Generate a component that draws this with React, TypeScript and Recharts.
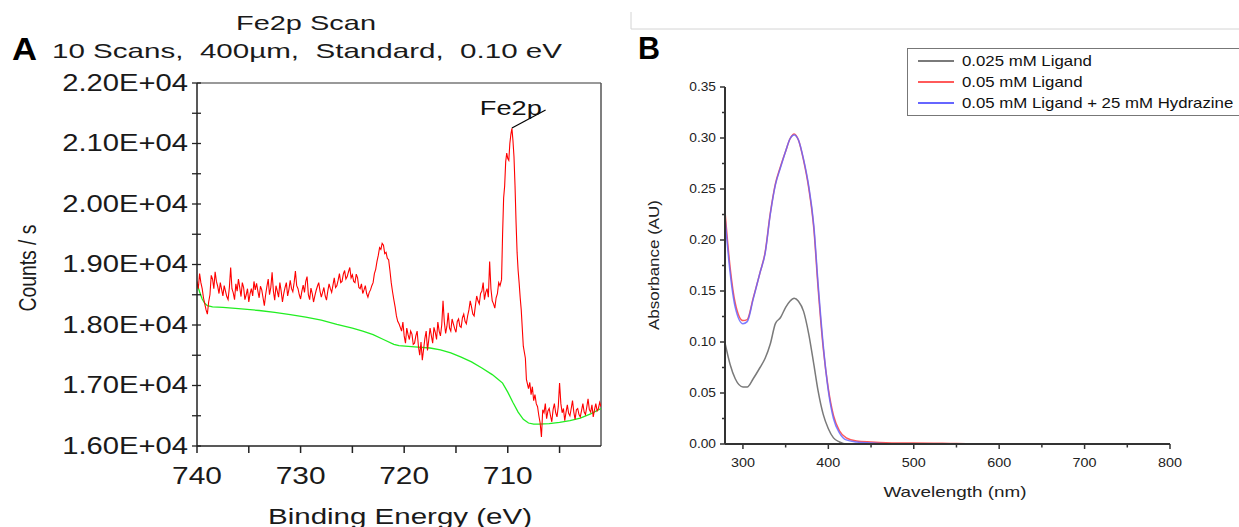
import React from 'react';
import { LineChart, Line, XAxis, YAxis, ReferenceLine, ReferenceDot, Legend } from 'recharts';

const FONT = 'Arial, "Liberation Sans", Helvetica, sans-serif';

// ---- Panel A: Fe2p XPS scan (binding energy in eV, counts / s) ----
const fe2pSignal: [number, number][] = [
  [740, 18720], [739.875, 18600], [739.75, 18850], [739.625, 18700], [739.5, 18600], [739.375, 18450], [739.25, 18350], [739.125, 18250],
  [739, 18180], [738.875, 18380], [738.75, 18500], [738.625, 18820], [738.5, 18760], [738.375, 18600], [738.25, 18880], [738.125, 18720],
  [738, 18640], [737.875, 18520], [737.75, 18700], [737.625, 18590], [737.5, 18480], [737.375, 18650], [737.25, 18560], [737.125, 18470],
  [737, 18420], [736.875, 18620], [736.75, 18950], [736.625, 18600], [736.5, 18530], [736.375, 18420], [736.25, 18680], [736.125, 18560],
  [736, 18760], [735.875, 18620], [735.75, 18470], [735.625, 18700], [735.5, 18620], [735.375, 18420], [735.25, 18500], [735.125, 18600],
  [735, 18380], [734.875, 18520], [734.75, 18600], [734.625, 18480], [734.5, 18720], [734.375, 18580], [734.25, 18690], [734.125, 18560],
  [734, 18450], [733.875, 18640], [733.75, 18580], [733.625, 18450], [733.5, 18320], [733.375, 18500], [733.25, 18640], [733.125, 18760],
  [733, 18500], [732.875, 18620], [732.75, 18870], [732.625, 18560], [732.5, 18410], [732.375, 18650], [732.25, 18560], [732.125, 18460],
  [732, 18700], [731.875, 18560], [731.75, 18380], [731.625, 18520], [731.5, 18620], [731.375, 18700], [731.25, 18480], [731.125, 18590],
  [731, 18740], [730.875, 18600], [730.75, 18550], [730.625, 18700], [730.5, 18890], [730.375, 18650], [730.25, 18600], [730.125, 18500],
  [730, 18430], [729.875, 18560], [729.75, 18660], [729.625, 18540], [729.5, 18720], [729.375, 18800], [729.25, 18500], [729.125, 18420],
  [729, 18610], [728.875, 18520], [728.75, 18380], [728.625, 18480], [728.5, 18570], [728.375, 18640], [728.25, 18700], [728.125, 18560],
  [728, 18460], [727.875, 18540], [727.75, 18620], [727.625, 18480], [727.5, 18410], [727.375, 18560], [727.25, 18680], [727.125, 18600],
  [727, 18540], [726.875, 18660], [726.75, 18780], [726.625, 18620], [726.5, 18650], [726.375, 18740], [726.25, 18850], [726.125, 18700],
  [726, 18720], [725.875, 18840], [725.75, 18900], [725.625, 18760], [725.5, 18800], [725.375, 18880], [725.25, 18950], [725.125, 18780],
  [725, 18830], [724.875, 18720], [724.75, 18700], [724.625, 18840], [724.5, 18780], [724.375, 18620], [724.25, 18600], [724.125, 18680],
  [724, 18520], [723.875, 18580], [723.75, 18650], [723.625, 18520], [723.5, 18460], [723.375, 18540], [723.25, 18580], [723.125, 18650],
  [723, 18700], [722.875, 18850], [722.75, 18920], [722.625, 19050], [722.5, 19150], [722.375, 19280], [722.25, 19250], [722.125, 19350],
  [722, 19320], [721.875, 19180], [721.75, 19200], [721.625, 19100], [721.5, 19080], [721.375, 18900], [721.25, 18700], [721.125, 18550],
  [721, 18420], [720.875, 18300], [720.75, 18150], [720.625, 18060], [720.5, 18020], [720.375, 17960], [720.25, 17900], [720.125, 18050],
  [720, 17820], [719.875, 17700], [719.75, 17950], [719.625, 17840], [719.5, 17760], [719.375, 17900], [719.25, 17850], [719.125, 17680],
  [719, 17700], [718.875, 17820], [718.75, 17900], [718.625, 17650], [718.5, 17500], [718.375, 17720], [718.25, 17420], [718.125, 17600],
  [718, 17780], [717.875, 17900], [717.75, 17580], [717.625, 17760], [717.5, 17950], [717.375, 17820], [717.25, 17700], [717.125, 17960],
  [717, 17880], [716.875, 17760], [716.75, 18050], [716.625, 17900], [716.5, 17820], [716.375, 18000], [716.25, 18400], [716.125, 18050],
  [716, 17860], [715.875, 17980], [715.75, 18200], [715.625, 17950], [715.5, 17900], [715.375, 18100], [715.25, 18020], [715.125, 17940],
  [715, 17880], [714.875, 18060], [714.75, 18100], [714.625, 17980], [714.5, 17960], [714.375, 18120], [714.25, 18180], [714.125, 18060],
  [714, 18020], [713.875, 18150], [713.75, 18250], [713.625, 18400], [713.5, 18300], [713.375, 18180], [713.25, 18150], [713.125, 18320],
  [713, 18480], [712.875, 18400], [712.75, 18350], [712.625, 18520], [712.5, 18560], [712.375, 18700], [712.25, 18420], [712.125, 18540],
  [712, 18600], [711.875, 18460], [711.75, 19050], [711.625, 18600], [711.5, 18400], [711.375, 18350], [711.25, 18280], [711.125, 18450],
  [711, 18520], [710.875, 18700], [710.75, 18650], [710.6, 18750], [710.5, 19500], [710.4, 20100], [710.3, 20300], [710.2, 20700],
  [710.1, 20840], [710, 20750], [709.9, 20720], [709.8, 21000], [709.7, 21150], [709.6, 21250], [709.5, 21050], [709.4, 20780],
  [709.3, 20300], [709.2, 19700], [709.1, 19200], [709, 18900], [708.9, 18690], [708.8, 18450], [708.7, 18250], [708.5, 17650],
  [708.3, 17450], [708.2, 17100], [708, 16950], [707.875, 17050], [707.75, 16850], [707.625, 16980], [707.5, 16750], [707.375, 16850],
  [707.25, 16700], [707.125, 16650], [707, 16500], [706.875, 16380], [706.75, 16150], [706.625, 16600], [706.5, 16550], [706.375, 16700],
  [706.25, 16450], [706.125, 16580], [706, 16620], [705.875, 16500], [705.75, 16400], [705.625, 16600], [705.5, 16700], [705.375, 16550],
  [705.25, 16480], [705.125, 16650], [705, 17040], [704.875, 16700], [704.75, 16550], [704.625, 16620], [704.5, 16420], [704.375, 16560],
  [704.25, 16680], [704.125, 16540], [704, 16500], [703.875, 16620], [703.75, 16750], [703.625, 16560], [703.5, 16440], [703.375, 16600],
  [703.25, 16620], [703.125, 16520], [703, 16480], [702.875, 16590], [702.75, 16700], [702.625, 16560], [702.5, 16520], [702.375, 16640],
  [702.25, 16780], [702.125, 16600], [702, 16560], [701.875, 16680], [701.75, 16480], [701.625, 16600], [701.5, 16700], [701.375, 16580],
  [701.25, 16620], [701.125, 16720], [701, 16650],
];

const fe2pBackground: [number, number][] = [
  [740, 18680], [739.75, 18550], [739.5, 18430], [739.25, 18360], [739, 18320], [738.5, 18300], [737.5, 18290], [736, 18270],
  [734, 18240], [732.5, 18210], [731, 18170], [729.5, 18130], [728, 18080], [726.5, 18010], [725, 17950], [724, 17900],
  [723, 17840], [722, 17760], [721, 17680], [720.5, 17660], [719, 17640], [717.5, 17620], [716.5, 17590], [715.5, 17540],
  [714.5, 17470], [713.5, 17390], [712.5, 17290], [711.5, 17180], [711, 17110], [710.5, 17040], [710, 16890], [709.5, 16720],
  [709, 16560], [708.5, 16440], [708, 16380], [707.5, 16360], [707, 16360], [706, 16370], [705, 16390], [704, 16420],
  [703, 16460], [702, 16530], [701, 16620],
];

const energyTicks = [740, 735, 730, 725, 720, 715, 710, 705];
const countTicks = [16000, 16500, 17000, 17500, 18000, 18500, 19000, 19500, 20000, 20500, 21000, 21500, 22000];

// ---- Panel B: UV-vis absorbance ----
const wavelengths = [279, 285, 291, 300, 305, 312, 320, 326, 332, 338, 344, 350, 355, 360, 365, 371, 377, 383, 388, 394, 400, 406, 413, 421, 433, 450, 480, 500, 550, 600, 700, 800];
const ligand025 = [0.099, 0.078, 0.064, 0.056, 0.056, 0.064, 0.075, 0.084, 0.098, 0.118, 0.124, 0.134, 0.14, 0.143, 0.14, 0.13, 0.108, 0.078, 0.052, 0.029, 0.015, 0.006, 0.002, 0, 0, 0, 0, 0, 0, 0, 0, 0];
const ligand05 = [0.228, 0.173, 0.138, 0.121, 0.122, 0.143, 0.168, 0.188, 0.226, 0.255, 0.272, 0.287, 0.299, 0.304, 0.298, 0.278, 0.251, 0.211, 0.153, 0.094, 0.054, 0.028, 0.013, 0.006, 0.003, 0.002, 0.001, 0.001, 0.0005, 0, 0, 0];
const ligandHydrazine = [0.222, 0.168, 0.134, 0.118, 0.12, 0.142, 0.168, 0.187, 0.225, 0.254, 0.271, 0.287, 0.299, 0.303, 0.298, 0.279, 0.253, 0.214, 0.157, 0.097, 0.052, 0.025, 0.011, 0.004, 0.002, 0.001, 0, 0, 0, 0, 0, 0];
const seriesNames = ['0.025 mM Ligand', '0.05 mM Ligand', '0.05 mM Ligand + 25 mM Hydrazine'];
const seriesColors = ['#7a7a7a', '#ff5a5a', '#6666ff'];
const wavelengthTicks = [300, 350, 400, 450, 500, 550, 600, 650, 700, 750, 800];
const absTicks = [0, 0.025, 0.05, 0.075, 0.1, 0.125, 0.15, 0.175, 0.2, 0.225, 0.25, 0.275, 0.3, 0.325, 0.35];

const signalRows = fe2pSignal.map(([e, c]) => ({ e, c }));
const backgroundRows = fe2pBackground.map(([e, c]) => ({ e, c }));
const uvRows = wavelengths.map((w, i) => ({ w, a: ligand025[i], b: ligand05[i], c: ligandHydrazine[i] }));

const CountsTick = (p: any) => {
  const { x, y, payload } = p;
  const major = payload.value % 1000 === 0;
  const ax = x + 7;
  return (
    <g>
      <line x1={ax - 5} x2={ax + 4} y1={y} y2={y} stroke="#222" strokeWidth={1.3} />
      {major && (
        <text transform={`translate(${x - 2},${y}) scale(1.27,1)`} textAnchor="end" dominantBaseline="central"
          fontSize={23} fill="#1a1a1a" fontFamily={FONT}>
          {(payload.value / 10000).toFixed(2) + 'E+04'}
        </text>
      )}
    </g>
  );
};

const EnergyTick = (p: any) => {
  const { x, y, payload } = p;
  if (payload.value % 10 !== 0) return <g />;
  return (
    <text transform={`translate(${x},${y + 23}) scale(1.3,1)`} textAnchor="middle" dominantBaseline="central"
      fontSize={23} fill="#1a1a1a" fontFamily={FONT}>
      {payload.value}
    </text>
  );
};

const AbsTick = (p: any) => {
  const { x, y, payload } = p;
  const v = payload.value;
  const major = Math.abs(v * 20 - Math.round(v * 20)) < 1e-6;
  const ax = x + 9;
  return (
    <g>
      <line x1={ax - (major ? 5 : 3)} x2={ax} y1={y} y2={y} stroke="#333" strokeWidth={1.5} />
      {major && (
        <text transform={`translate(${x},${y}) scale(1.1,1)`} textAnchor="end" dominantBaseline="central"
          fontSize={12.5} fill="#222" fontFamily={FONT}>
          {v.toFixed(2)}
        </text>
      )}
    </g>
  );
};

const WaveTick = (p: any) => {
  const { x, y, payload } = p;
  const major = payload.value % 100 === 0;
  return (
    <g>
      <line x1={x} x2={x} y1={y} y2={y + (major ? 5 : 3.5)} stroke="#333" strokeWidth={1.5} />
      {major && (
        <text transform={`translate(${x},${y + 19}) scale(1.15,1)`} textAnchor="middle" dominantBaseline="central"
          fontSize={12.5} fill="#222" fontFamily={FONT}>
          {payload.value}
        </text>
      )}
    </g>
  );
};

const LegendBox = () => (
  <div style={{ border: '1px solid #777', background: '#fff', padding: '1px 0 2px 10px', width: 420, fontFamily: FONT }}>
    {seriesNames.map((name, i) => (
      <div key={name} style={{ display: 'flex', alignItems: 'center', height: 21 }}>
        <div style={{ width: 36, height: 2, background: seriesColors[i], marginRight: 8, flexShrink: 0 }} />
        <span style={{ fontSize: 15, color: '#111', display: 'inline-block', transform: 'scaleX(1.12)', transformOrigin: 'left center', whiteSpace: 'nowrap' }}>
          {name}
        </span>
      </div>
    ))}
  </div>
);

const FePanel = () => (
  <LineChart width={620} height={527} margin={{ top: 83, right: 19, bottom: 21, left: 57 }}>
    <XAxis dataKey="e" type="number" domain={[701, 740]} reversed allowDataOverflow ticks={energyTicks}
      tick={<EnergyTick />} tickSize={7} tickMargin={0} height={60} stroke="#222" strokeWidth={1.5}
      label={{ content: () => (
        <text x={400} y={516} textAnchor="middle" dominantBaseline="central" fontSize={22} fill="#1a1a1a"
          fontFamily={FONT} textLength={264} lengthAdjust="spacingAndGlyphs">Binding Energy (eV)</text>
      ) }} />
    <YAxis type="number" domain={[16000, 22000]} allowDataOverflow ticks={countTicks} interval={0}
      tick={<CountsTick />} tickLine={false} tickSize={0} tickMargin={7} width={140} stroke="#222" strokeWidth={1.5}
      label={{ content: () => (
        <text transform="translate(28,268) rotate(-90)" textAnchor="middle" dominantBaseline="central" fontSize={23}
          fill="#1a1a1a" fontFamily={FONT} textLength={87} lengthAdjust="spacingAndGlyphs">Counts / s</text>
      ) }} />
    <ReferenceLine y={22000} stroke="#777" strokeWidth={1.5} />
    <ReferenceLine x={701} stroke="#555" strokeWidth={1.5} />
    <Line data={backgroundRows} dataKey="c" type="linear" stroke="#22ee22" strokeWidth={1.3} dot={false} isAnimationActive={false} />
    <Line data={signalRows} dataKey="c" type="linear" stroke="#ff0000" strokeWidth={1.1} dot={false} isAnimationActive={false} />
    <ReferenceLine segment={[{ x: 709.6, y: 21256 }, { x: 706.35, y: 21554 }]} stroke="#000" strokeWidth={1.2} />
    <ReferenceDot x={709.7} y={21590} r={0} fill="none" stroke="none"
      label={{ content: (lp: any) => {
        const vb = lp.viewBox || {};
        return (
          <text x={vb.x} y={vb.y} textAnchor="middle" dominantBaseline="central" fontSize={20} fill="#111"
            fontFamily={FONT} textLength={62} lengthAdjust="spacingAndGlyphs">Fe2p</text>
        );
      } }} />
  </LineChart>
);

const UvPanel = () => (
  <LineChart width={619} height={527} data={uvRows} margin={{ top: 87, right: 69, bottom: 33, left: 45 }}>
    <XAxis dataKey="w" type="number" domain={[279, 800]} allowDataOverflow ticks={wavelengthTicks} interval={0}
      tick={<WaveTick />} tickLine={false} tickSize={0} tickMargin={0} height={50} stroke="#333" strokeWidth={2}
      label={{ content: () => (
        <text x={335} y={491} textAnchor="middle" dominantBaseline="central" fontSize={15} fill="#222"
          fontFamily={FONT} textLength={143} lengthAdjust="spacingAndGlyphs">Wavelength (nm)</text>
      ) }} />
    <YAxis type="number" domain={[0, 0.35]} allowDataOverflow ticks={absTicks} interval={0}
      tick={<AbsTick />} tickLine={false} tickSize={0} tickMargin={9} width={60} stroke="#333" strokeWidth={2}
      label={{ content: () => (
        <text transform="translate(33,265) rotate(-90)" textAnchor="middle" dominantBaseline="central" fontSize={15}
          fill="#222" fontFamily={FONT} textLength={130} lengthAdjust="spacingAndGlyphs">Absorbance (AU)</text>
      ) }} />
    <Legend layout="vertical" align="center" verticalAlign="middle" content={<LegendBox />}
      wrapperStyle={{ left: 287, top: 48, width: 420 }} />
    <Line dataKey="a" name={seriesNames[0]} type="monotone" stroke={seriesColors[0]} strokeWidth={1.5} dot={false} isAnimationActive={false} />
    <Line dataKey="b" name={seriesNames[1]} type="monotone" stroke={seriesColors[1]} strokeWidth={1.5} dot={false} isAnimationActive={false} />
    <Line dataKey="c" name={seriesNames[2]} type="monotone" stroke={seriesColors[2]} strokeOpacity={0.85} strokeWidth={1.5} dot={false} isAnimationActive={false} />
  </LineChart>
);

export default function App() {
  return (
    <div style={{ position: 'absolute', left: 0, top: 0, width: 1239, height: 527, overflow: 'hidden', background: '#fff' }}>
      <div style={{ position: 'absolute', left: 0, top: 0 }}>
        <FePanel />
      </div>
      <div style={{ position: 'absolute', left: 620, top: 0 }}>
        <UvPanel />
      </div>
      <svg width={1239} height={527} style={{ position: 'absolute', left: 0, top: 0, pointerEvents: 'none' }}>
        <text x={306} y={22} textAnchor="middle" dominantBaseline="central" fontSize={21} fill="#1a1a1a" fontFamily={FONT}
          textLength={140} lengthAdjust="spacingAndGlyphs">Fe2p Scan</text>
        <text x={52} y={50} dominantBaseline="central" fontSize={21} fill="#1a1a1a" fontFamily={FONT}
          textLength={510} lengthAdjust="spacingAndGlyphs" style={{ whiteSpace: 'pre' }}>10 Scans,  400µm,  Standard,  0.10 eV</text>
        <text x={12} y={49} dominantBaseline="central" fontSize={32} fontWeight="bold" fill="#000" fontFamily={FONT}
          textLength={25} lengthAdjust="spacingAndGlyphs">A</text>
        <text x={638} y={48} dominantBaseline="central" fontSize={32} fontWeight="bold" fill="#000" fontFamily={FONT}
          textLength={22} lengthAdjust="spacingAndGlyphs">B</text>
        <polyline points="631,12 631,29 1239,29" fill="none" stroke="#d4d4d4" strokeWidth={1} />
      </svg>
    </div>
  );
}
